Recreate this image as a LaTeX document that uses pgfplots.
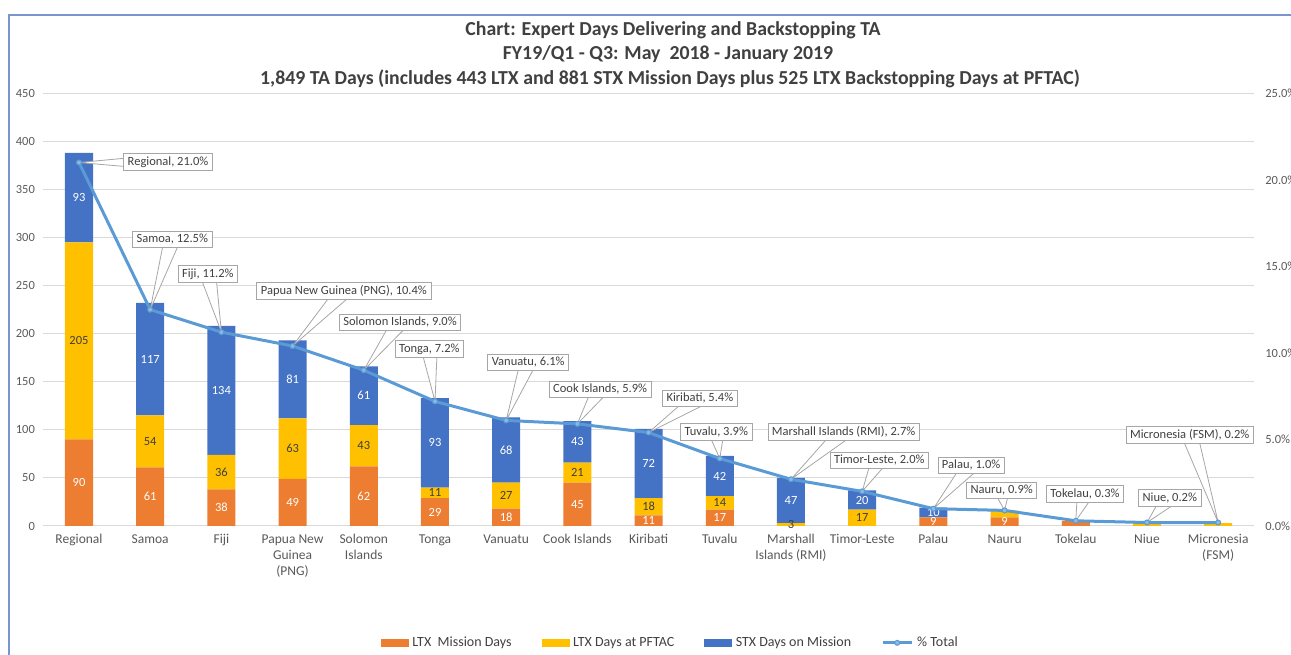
\documentclass[border=0pt]{standalone}
\usepackage{fontspec}
\setmainfont{Carlito}
\usepackage{pgfplots}
\usepackage{pgfplotstable}
\pgfplotsset{compat=1.18}
\usetikzlibrary{calc}
\definecolor{cOr}{RGB}{237,125,49}
\definecolor{cYe}{RGB}{255,192,0}
\definecolor{cBl}{RGB}{68,114,196}
\definecolor{cLine}{RGB}{91,155,213}
\definecolor{cTxt}{RGB}{89,89,89}
\definecolor{cDark}{RGB}{64,64,64}
\definecolor{cGrid}{RGB}{217,217,217}
\definecolor{cCall}{RGB}{166,166,166}
\definecolor{cFrame}{RGB}{120,150,205}

\pgfplotstableread{
x ltx pftac stx s1 s2 s3 pct
0 90 205 93 1 1 1 21.0
1 61 54 117 1 1 1 12.5
2 38 36 134 1 1 1 11.2
3 49 63 81 1 1 1 10.4
4 62 43 61 1 1 1 9.0
5 29 11 93 1 1 1 7.2
6 18 27 68 1 1 1 6.1
7 45 21 43 1 1 1 5.9
8 11 18 72 1 1 1 5.4
9 17 14 42 1 1 1 3.9
10 0 3 47 0 1 1 2.7
11 0 17 20 0 1 1 2.0
12 9 0 10 1 0 1 1.0
13 9 7 0 1 0 0 0.9
14 5 0 0 0 0 0 0.3
15 0 3 0 0 0 0 0.2
16 0 3 0 0 0 0 0.2
}\data

\newcommand{\callout}[5]{%
  \filldraw[fill=white, draw=cCall, line width=0.8pt]
    ($(axis cs:#1,#2)!8pt!90:(axis cs:#3,#4)$) -- (axis cs:#3,#4) --
    ($(axis cs:#1,#2)!8pt!-90:(axis cs:#3,#4)$) -- cycle;
  \node[draw=cCall, line width=0.8pt, fill=white, text=cDark,
        font=\fontsize{12.5}{14}\selectfont, inner xsep=4pt, inner ysep=3pt]
    at (axis cs:#1,#2) {#5};
}

\pgfplotsset{
  base/.style={
    at={(43.4pt,129pt)}, anchor=south west,
    width=1210.4pt, height=432.7pt, scale only axis,
    xmin=-0.5, xmax=16.5,
    /pgf/number format/assume math mode=true,
    clip=false,
  }
}

\begin{document}
\begin{tikzpicture}[x=1pt,y=1pt]
\useasboundingbox (0,0) rectangle (1291,655);
\clip (0,0) rectangle (1291,655);

% frame
\draw[cFrame, line width=1.2pt] (9,-5) -- (9,640) -- (1300,640);

% bars
\begin{axis}[base,
  ybar stacked, bar width=28pt,
  ymin=0, ymax=450, ytick={0,50,...,450},
  xtick={0,...,16},
  xticklabels={Regional, Samoa, Fiji, {Papua New\\Guinea\\(PNG)}, {Solomon\\Islands}, Tonga, Vanuatu, Cook Islands, Kiribati, Tuvalu, {Marshall\\Islands (RMI)}, Timor-Leste, Palau, Nauru, Tokelau, Niue, {Micronesia\\(FSM)}},
  xticklabel style={align=center, anchor=north, yshift=-5pt, text=cTxt, font=\fontsize{13.5}{16}\selectfont},
  yticklabel style={anchor=east, xshift=-5pt, text=cTxt, font=\fontsize{12.5}{14}\selectfont},
  axis line style={draw=none}, tick style={draw=none},
  ymajorgrids, major grid style={cGrid, line width=1pt},
]
\addplot[fill=cOr, draw=none] table[x=x, y=ltx] {\data};
\addplot[fill=cYe, draw=none] table[x=x, y=pftac] {\data};
\addplot[fill=cBl, draw=none] table[x=x, y=stx] {\data};
\end{axis}

% bar value labels
\begin{axis}[base, hide axis, ymin=0, ymax=450,
  every node near coord/.append style={anchor=center, font=\fontsize{12.5}{14}\selectfont},
]
\addplot[draw=none, mark=none, nodes near coords, point meta=explicit,
  every node near coord/.append style={text=white},
  restrict expr to domain={\thisrow{s1}}{0.5:1.5}]
  table[x=x, y expr=\thisrow{ltx}/2, meta=ltx] {\data};
\addplot[draw=none, mark=none, nodes near coords, point meta=explicit,
  every node near coord/.append style={text=cDark},
  restrict expr to domain={\thisrow{s2}}{0.5:1.5}]
  table[x=x, y expr=\thisrow{ltx}+\thisrow{pftac}/2, meta=pftac] {\data};
\addplot[draw=none, mark=none, nodes near coords, point meta=explicit,
  every node near coord/.append style={text=white},
  restrict expr to domain={\thisrow{s3}}{0.5:1.5}]
  table[x=x, y expr=\thisrow{ltx}+\thisrow{pftac}+\thisrow{stx}/2, meta=stx] {\data};
\end{axis}

% percent line
\begin{axis}[base,
  ymin=0, ymax=25, ytick={0,5,...,25},
  axis x line=none, axis y line*=right,
  y axis line style={draw=none}, ytick style={draw=none},
  yticklabel={\pgfmathprintnumber[fixed,fixed zerofill,precision=1]{\tick}\%},
  yticklabel style={anchor=west, xshift=8pt, text=cTxt, font=\fontsize{12.5}{14}\selectfont},
  legend columns=4,
  legend style={at={(0.518,-0.270)}, anchor=center, draw=none, fill=none,
    font=\fontsize{14}{16}\selectfont, text=cDark,
    /tikz/every even column/.append style={column sep=28pt},
    /tikz/every odd column/.append style={column sep=2pt}},
  legend cell align=left,
]
\addlegendimage{legend image code/.code={\fill[cOr] (0pt,-3.5pt) rectangle (27pt,3.5pt);}}
\addlegendentry{LTX\ \ Mission Days}
\addlegendimage{legend image code/.code={\fill[cYe] (0pt,-3.5pt) rectangle (27pt,3.5pt);}}
\addlegendentry{LTX Days at PFTAC}
\addlegendimage{legend image code/.code={\fill[cBl] (0pt,-3.5pt) rectangle (27pt,3.5pt);}}
\addlegendentry{STX Days on Mission}
\addplot[cLine, line width=3pt, mark=*, mark size=2.5pt,
  mark options={fill=cLine!70!white, draw=cLine, line width=1pt},
  legend image code/.code={\draw[cLine, line width=3pt] (0pt,0pt) -- (29pt,0pt);
     \filldraw[fill=cLine!70!white, draw=cLine, line width=1pt] (14.5pt,0pt) circle (2.5pt);}]
  table[x=x, y=pct] {\data};
\addlegendentry{\% Total}

\callout{1.25}{21.02}{0}{21.0}{Regional, 21.0\%}
\callout{1.31}{16.57}{1}{12.5}{Samoa, 12.5\%}
\callout{1.81}{14.55}{2}{11.2}{Fiji, 11.2\%}
\callout{3.72}{13.57}{3}{10.4}{Papua New Guinea (PNG), 10.4\%}
\callout{4.51}{11.78}{4}{9.0}{Solomon Islands, 9.0\%}
\callout{4.92}{10.22}{5}{7.2}{Tonga, 7.2\%}
\callout{6.31}{9.47}{6}{6.1}{Vanuatu, 6.1\%}
\callout{7.32}{7.91}{7}{5.9}{Cook Islands, 5.9\%}
\callout{8.72}{7.39}{8}{5.4}{Kiribati, 5.4\%}
\callout{8.95}{5.43}{9}{3.9}{Tuvalu, 3.9\%}
\callout{10.74}{5.43}{10}{2.7}{Marshall Islands (RMI), 2.7\%}
\callout{11.24}{3.81}{11}{2.0}{Timor-Leste, 2.0\%}
\callout{12.53}{3.52}{12}{1.0}{Palau, 1.0\%}
\callout{12.96}{2.08}{13}{0.9}{Nauru, 0.9\%}
\callout{14.13}{1.85}{14}{0.3}{Tokelau, 0.3\%}
\callout{15.32}{1.62}{15}{0.2}{Niue, 0.2\%}
\callout{15.60}{5.25}{16}{0.2}{Micronesia (FSM), 0.2\%}
\end{axis}

% titles
\node[font=\bfseries\fontsize{19.8}{22}\selectfont, text=cDark] at (673,625) {Chart: Expert Days Delivering and Backstopping TA};
\node[font=\bfseries\fontsize{19.8}{22}\selectfont, text=cDark] at (668,601) {FY19/Q1 - Q3: May\ \ 2018 - January 2019};
\node[font=\bfseries\fontsize{19.8}{22}\selectfont, text=cDark] at (670,576) {1,849 TA Days (includes 443 LTX and 881 STX Mission Days plus 525 LTX Backstopping Days at PFTAC)};
\end{tikzpicture}
\end{document}
